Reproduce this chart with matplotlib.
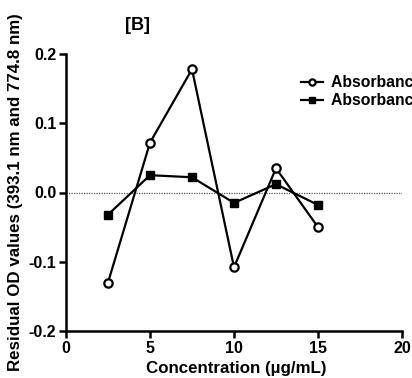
import matplotlib.pyplot as plt

plt.rcParams['font.family'] = ['Liberation Sans', 'DejaVu Sans']
plt.rcParams['font.weight'] = 'bold'

conc = [2.5, 5, 7.5, 10, 12.5, 15]
abs_393 = [-0.13, 0.072, 0.178, -0.108, 0.035, -0.05]
abs_774 = [-0.032, 0.025, 0.022, -0.015, 0.012, -0.018]
labels = ["Absorbance at 393.1 nm", "Absorbance at 774.8 nm"]

fig = plt.figure(figsize=(4.12, 3.78), dpi=100)
ax = fig.add_axes([66 / 412, 47 / 378, 336 / 412, 277 / 378])

ax.axhline(0, color="#555555", lw=0.9, ls=(0, (1, 1)), zorder=1)
ax.plot(conc, abs_393, color="black", lw=1.6, marker="o", ms=6,
        mfc="white", mec="black", mew=1.6, label=labels[0], zorder=3)
ax.plot(conc, abs_774, color="black", lw=1.6, marker="s", ms=5.5,
        mfc="black", mec="black", label=labels[1], zorder=3)

ax.set_xlim(0, 20)
ax.set_ylim(-0.2, 0.2)
ax.set_xticks([0, 5, 10, 15, 20])
ax.set_yticks([-0.2, -0.1, 0.0, 0.1, 0.2])
ax.set_yticklabels(["-0.2", "-0.1", "0.0", "0.1", "0.2"])
for s in ["top", "right"]:
    ax.spines[s].set_visible(False)
for s in ["left", "bottom"]:
    ax.spines[s].set_linewidth(1.8)
ax.tick_params(width=1.8, length=5, labelsize=11.5, direction="out", pad=2)
for t in ax.get_xticklabels() + ax.get_yticklabels():
    t.set_fontweight("bold")

# axis titles placed by hand so they sit where the original puts them
fig.text(236 / 412, 1 - 368 / 378, "Concentration (\u00b5g/mL)", ha="center",
         va="center", fontsize=12.2, fontweight="bold")
fig.text(16 / 412, 1 - 192 / 378, "Residual OD values (393.1 nm and 774.8 nm)",
         rotation=90, ha="center", va="center", fontsize=12.2, fontweight="bold")
fig.text(138 / 412, 1 - 26 / 378, "[B]", ha="center", va="center",
         fontsize=13, fontweight="bold")

# legend runs off the right edge, as in the original
ax.legend(loc="upper left", bbox_to_anchor=(301 / 412, 1 - 75 / 378),
          bbox_transform=fig.transFigure, frameon=False, fontsize=11.3,
          handlelength=1.4, handletextpad=0.5, labelspacing=0.2,
          markerscale=0.75, borderpad=0, borderaxespad=0)

fig.savefig("out.png", dpi=100)
